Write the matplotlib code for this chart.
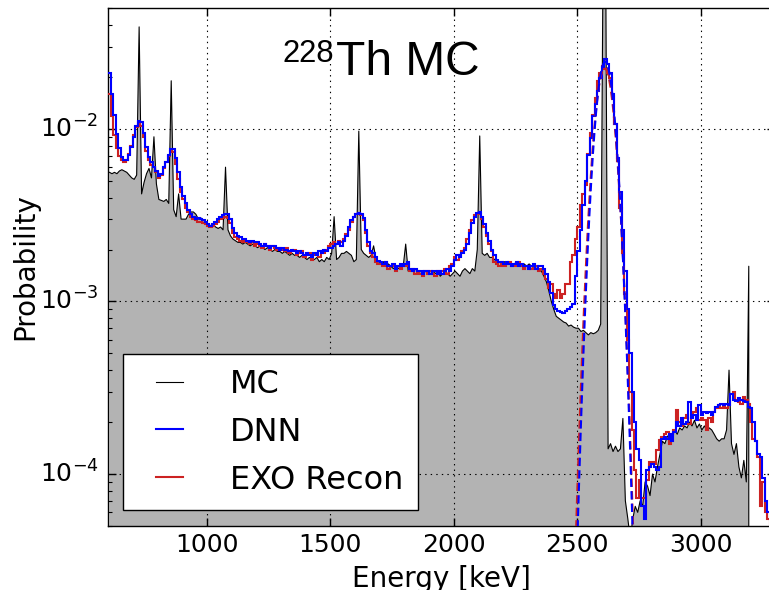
import numpy as np
import matplotlib
matplotlib.use("Agg")
import matplotlib.pyplot as plt
from matplotlib.lines import Line2D
from matplotlib.legend_handler import HandlerLine2D

# ---------------------------------------------------------------------------
# 228Th calibration source: simulated energy spectrum (MC) and the energies
# reconstructed by the DNN and by the standard EXO reconstruction.
# Histograms use 10 keV bins starting at 600 keV; values are probabilities
# per bin, listed in units of 1e-3 (one row = 100 keV).
# ---------------------------------------------------------------------------
bin_start = 600.0
bin_width = 10.0

dnn_e3 = [
    21.0, 16.0, 12.0, 9.3, 7.8, 6.9, 6.6, 6.6, 7.1, 7.9,          # 600
    9.0, 10.4, 11.1, 11.0, 9.5, 7.9, 6.9, 6.4, 6.0, 5.7,          # 700
    5.3, 5.5, 6.0, 6.4, 7.1, 7.6, 7.6, 6.8, 5.6, 4.6,             # 800
    4.1, 3.7, 3.4, 3.2, 3.1, 3.0, 3.05, 3.0, 2.95, 2.9,           # 900
    2.8, 2.75, 2.8, 2.9, 3.0, 3.1, 3.15, 3.2, 3.2, 3.0,           # 1000
    2.65, 2.5, 2.4, 2.35, 2.3, 2.3, 2.25, 2.2, 2.25, 2.2,         # 1100
    2.2, 2.15, 2.1, 2.15, 2.1, 2.05, 2.1, 2.1, 2.05, 2.0,         # 1200
    2.05, 2.0, 2.0, 1.95, 2.0, 1.95, 1.9, 1.95, 1.9, 1.85,        # 1300
    1.9, 1.85, 1.8, 1.9, 1.85, 1.95, 1.9, 2.0, 1.95, 2.05,        # 1400
    2.05, 2.1, 2.15, 2.2, 2.1, 2.25, 2.4, 2.7, 2.95, 3.1,         # 1500
    3.2, 3.25, 3.2, 3.05, 2.6, 2.2, 1.95, 1.9, 1.8, 1.72,         # 1600
    1.7, 1.65, 1.7, 1.6, 1.6, 1.65, 1.55, 1.6, 1.65, 1.6,         # 1700
    1.65, 1.7, 1.55, 1.5, 1.55, 1.5, 1.5, 1.45, 1.5, 1.5,         # 1800
    1.45, 1.5, 1.5, 1.45, 1.5, 1.45, 1.5, 1.55, 1.5, 1.6,         # 1900
    1.75, 1.85, 1.8, 1.9, 2.0, 2.15, 2.5, 2.85, 3.1, 3.25,        # 2000
    3.3, 3.1, 2.8, 2.5, 2.25, 2.0, 1.85, 1.75, 1.7, 1.7,          # 2100
    1.65, 1.7, 1.65, 1.6, 1.65, 1.7, 1.6, 1.65, 1.6, 1.6,         # 2200
    1.55, 1.6, 1.65, 1.55, 1.6, 1.6, 1.55, 1.45, 1.3, 1.12,       # 2300
    0.95, 0.9, 0.88, 0.87, 0.86, 0.88, 0.9, 0.93, 0.97, 1.4,      # 2400
    1.95, 2.6, 3.6, 5.0, 7.1, 8.9, 11.9, 14.0, 16.5, 19.7,        # 2500
    22.9, 25.5, 23.8, 21.0, 16.0, 10.7, 6.8, 4.3, 2.6, 1.5,       # 2600
    0.9, 0.5, 0.3, 0.2, 0.14, 0.12, 0.065, 0.055, 0.105, 0.11,    # 2700
    0.115, 0.11, 0.105, 0.11, 0.16, 0.165, 0.16, 0.17, 0.155, 0.175,  # 2800
    0.2, 0.19, 0.21, 0.195, 0.2, 0.26, 0.21, 0.22, 0.205, 0.25,   # 2900
    0.22, 0.23, 0.225, 0.23, 0.22, 0.23, 0.245, 0.25, 0.255, 0.25,    # 3000
    0.255, 0.25, 0.29, 0.27, 0.265, 0.275, 0.27, 0.265, 0.26, 0.245,  # 3100
    0.24, 0.2, 0.155, 0.13, 0.125, 0.095, 0.07, 0.06, 0.055, 0.05,    # 3200
]

exo_e3 = [
    16.0, 11.8, 9.2, 7.8, 7.0, 6.6, 6.4, 6.6, 7.2, 8.0,           # 600
    9.2, 10.3, 11.0, 10.4, 9.0, 7.4, 6.6, 6.2, 6.0, 5.6,          # 700
    5.2, 5.4, 5.9, 6.4, 7.0, 7.4, 7.3, 6.3, 5.1, 4.3,             # 800
    3.9, 3.5, 3.3, 3.1, 3.0, 2.95, 2.9, 2.9, 2.85, 2.8,           # 900
    2.75, 2.7, 2.75, 2.8, 2.9, 3.0, 3.05, 3.1, 3.05, 2.85,        # 1000
    2.5, 2.35, 2.3, 2.25, 2.2, 2.25, 2.2, 2.15, 2.2, 2.1,         # 1100
    2.15, 2.1, 2.05, 2.15, 2.1, 2.0, 2.1, 2.05, 2.0, 2.05,        # 1200
    2.0, 1.95, 2.05, 1.9, 1.95, 2.0, 1.85, 1.9, 1.95, 1.8,        # 1300
    1.85, 1.9, 1.75, 1.85, 1.9, 1.8, 1.95, 1.9, 2.0, 2.1,         # 1400
    2.15, 2.2, 2.15, 2.25, 2.2, 2.3, 2.45, 2.6, 2.9, 3.1,         # 1500
    3.2, 3.25, 3.15, 2.95, 2.5, 2.1, 1.9, 1.8, 1.7, 1.65,         # 1600
    1.65, 1.6, 1.7, 1.55, 1.6, 1.6, 1.5, 1.6, 1.55, 1.6,          # 1700
    1.6, 1.65, 1.5, 1.55, 1.45, 1.5, 1.45, 1.4, 1.5, 1.45,        # 1800
    1.5, 1.45, 1.4, 1.5, 1.45, 1.5, 1.55, 1.45, 1.6, 1.65,        # 1900
    1.8, 1.75, 1.85, 1.95, 2.05, 2.3, 2.6, 2.95, 3.15, 3.2,       # 2000
    3.2, 3.0, 2.7, 2.4, 2.15, 1.95, 1.7, 1.65, 1.6, 1.7,          # 2100
    1.6, 1.65, 1.7, 1.6, 1.6, 1.65, 1.7, 1.6, 1.55, 1.6,          # 2200
    1.6, 1.55, 1.6, 1.6, 1.5, 1.55, 1.45, 1.35, 1.2, 1.27,        # 2300
    1.1, 1.05, 1.16, 1.05, 1.1, 1.27, 1.27, 1.7, 1.85, 2.3,       # 2400
    2.7, 3.6, 4.2, 4.7, 7.2, 9.5, 12.0, 15.2, 19.0, 21.0,         # 2500
    23.0, 22.3, 21.0, 19.7, 15.5, 10.7, 6.5, 3.5, 1.9, 1.1,       # 2600
    0.6, 0.3, 0.18, 0.105, 0.073, 0.092, 0.073, 0.073, 0.092, 0.117,  # 2700
    0.117, 0.115, 0.138, 0.157, 0.165, 0.17, 0.175, 0.15, 0.17, 0.18,  # 2800
    0.235, 0.2, 0.19, 0.21, 0.22, 0.195, 0.21, 0.23, 0.24, 0.205,     # 2900
    0.21, 0.205, 0.18, 0.21, 0.2, 0.23, 0.24, 0.25, 0.24, 0.245,      # 3000
    0.24, 0.25, 0.29, 0.30, 0.27, 0.26, 0.255, 0.28, 0.27, 0.255,     # 3100
    0.2, 0.16, 0.155, 0.125, 0.065, 0.09, 0.06, 0.055, 0.05, 0.05,    # 3200
]

# MC truth, given at the bin centres (605, 615, ... keV); no entries above 3200 keV
mc_e3 = [
    5.6, 5.5, 5.6, 5.5, 5.7, 5.8, 5.7, 5.6, 5.4, 5.2,             # 600
    5.1, 5.4, 39.0, 4.2, 4.9, 5.5, 5.9, 5.2, 9.0, 4.8,            # 700
    3.9, 3.85, 3.8, 3.9, 3.7, 19.0, 3.4, 3.1, 4.2, 3.0,           # 800
    3.0, 3.0, 3.2, 3.3, 3.3, 3.2, 3.0, 3.05, 2.95, 2.9,           # 900
    2.8, 2.75, 2.8, 2.7, 2.65, 2.7, 2.6, 6.0, 2.6, 2.4,           # 1000
    2.3, 2.25, 2.2, 2.2, 2.15, 2.2, 2.15, 2.1, 2.15, 2.1,         # 1100
    2.05, 2.1, 2.05, 2.0, 2.05, 2.0, 1.95, 2.0, 1.95, 1.95,       # 1200
    1.9, 1.95, 1.9, 1.85, 1.9, 1.85, 1.85, 1.8, 1.85, 1.8,        # 1300
    1.75, 1.8, 1.75, 1.75, 1.8, 1.7, 1.75, 1.7, 1.8, 1.75,        # 1400
    1.9, 3.1, 1.75, 1.8, 1.9, 1.9, 1.95, 1.9, 1.85, 1.7,          # 1500
    1.75, 9.7, 2.0, 1.9, 1.85, 1.8, 1.85, 2.1, 1.75, 1.7,         # 1600
    1.65, 1.7, 1.6, 1.65, 1.6, 1.55, 1.6, 1.55, 1.6, 1.6,         # 1700
    2.15, 1.5, 1.55, 1.5, 1.55, 1.45, 1.5, 1.45, 1.5, 1.45,       # 1800
    1.45, 1.5, 1.45, 1.5, 1.4, 1.45, 1.5, 1.45, 1.4, 1.45,        # 1900
    1.5, 1.45, 1.4, 1.5, 1.55, 1.5, 1.45, 1.55, 1.5, 2.0,         # 2000
    9.1, 1.9, 1.85, 1.9, 1.8, 1.8, 1.75, 1.7, 1.7, 1.65,          # 2100
    1.7, 1.65, 1.7, 1.6, 1.65, 1.7, 1.65, 1.6, 1.65, 1.6,         # 2200
    1.65, 1.6, 1.65, 1.6, 1.55, 1.5, 1.4, 1.3, 1.15, 1.0,         # 2300
    0.9, 0.82, 0.8, 0.78, 0.76, 0.75, 0.72, 0.73, 0.71, 0.70,     # 2400
    0.70, 0.67, 0.68, 0.66, 0.64, 0.66, 0.65, 0.66, 0.68, 0.74,   # 2500
    120.0, 120.0, 0.14, 0.15, 0.135, 0.145, 0.135, 0.14, 0.21, 0.07,  # 2600
    0.055, 0.042, 0.055, 0.065, 0.06, 0.07, 0.065, 0.09, 0.085, 0.075,  # 2700
    0.1, 0.09, 0.11, 0.13, 0.155, 0.15, 0.165, 0.17, 0.165, 0.18,     # 2800
    0.17, 0.185, 0.18, 0.19, 0.185, 0.2, 0.19, 0.205, 0.185, 0.195,   # 2900
    0.18, 0.19, 0.18, 0.185, 0.18, 0.17, 0.16, 0.155, 0.16, 0.16,     # 3000
    0.18, 0.4, 0.15, 0.13, 0.15, 0.11, 0.095, 0.12, 0.09, 1.6,        # 3100
    0.0, 0.0, 0.0, 0.0, 0.0, 0.0, 0.0, 0.0, 0.0, 0.0,                 # 3200
]

# Gaussian fits to the 2615 keV full-energy peak: (amplitude, mean [keV], sigma [keV])
dnn_fit = (0.0245, 2613.0, 31.5)
exo_fit = (0.0225, 2611.0, 33.0)
fit_range = (2470.0, 2760.0)

labels = ["MC", "DNN", "EXO Recon"]
title_mass = "228"
title_main = "Th MC"

# ---------------------------------------------------------------------------
plt.style.use("classic")

dnn = np.asarray(dnn_e3) * 1e-3
exo = np.asarray(exo_e3) * 1e-3
mc = np.asarray(mc_e3) * 1e-3
edges = bin_start + bin_width * np.arange(len(dnn) + 1)
centres = bin_start + bin_width * (np.arange(len(mc)) + 0.5)

fig = plt.figure(figsize=(7.69, 5.90), dpi=100, facecolor="white")
ax = fig.add_axes([0.1408, 0.1085, 0.8666, 0.8775])
ax.set_facecolor("white")

grey = "#b3b3b3"
ax.fill_between(centres, mc, 1e-9, facecolor=grey, edgecolor="none", zorder=1)
ax.plot(centres, mc, color="black", lw=0.8, zorder=2)

red = "#cc2222"
blue = "#0000ff"
ax.stairs(exo, edges, baseline=None, color=red, lw=1.5, zorder=3)
ax.stairs(dnn, edges, baseline=None, color=blue, lw=1.5, zorder=4)

fx = np.linspace(fit_range[0], fit_range[1], 400)
for (amp, mu, sig), col, z in ((exo_fit, red, 5), (dnn_fit, blue, 6)):
    fy = amp * np.exp(-0.5 * ((fx - mu) / sig) ** 2)
    ax.plot(fx, fy, color=col, lw=1.5, dashes=(6, 3), zorder=z)

ax.set_yscale("log")
ax.set_xlim(600, 3300)
ax.set_ylim(5e-5, 5e-2)
ax.set_xticks([1000, 1500, 2000, 2500, 3000])
ax.grid(True, which="major", color="black", linestyle=":", linewidth=0.8)
ax.set_axisbelow(False)
ax.tick_params(axis="both", which="major", labelsize=18, direction="in",
               length=6, width=1)
ax.tick_params(axis="x", which="major", pad=5)
ax.tick_params(axis="y", which="major", pad=7)
ax.tick_params(axis="both", which="minor", direction="in", length=3, width=0.8)

ax.set_xlabel("Energy [keV]", fontsize=20, labelpad=6)
ax.set_ylabel("Probability", fontsize=20, labelpad=0)

# isotope title: small mass number raised before the element symbol
fig.text(283 / 769, 1 - 61.7 / 590, title_mass, fontsize=22.3,
         family="Liberation Sans", ha="left", va="baseline")
fig.text(336 / 769, 1 - 75 / 590, title_main, fontsize=34.5,
         family="Liberation Sans", ha="left", va="baseline")

handles = [Line2D([], [], color="black", lw=0.8),
           Line2D([], [], color=blue, lw=1.5),
           Line2D([], [], color=red, lw=1.5)]
leg = ax.legend(handles, labels, loc="lower left",
                bbox_to_anchor=(0.022, 0.031), borderaxespad=0,
                fontsize=23, frameon=True, fancybox=False, framealpha=1,
                borderpad=0.45, labelspacing=0.53, handlelength=1.74,
                handletextpad=1.16, numpoints=2,
                handler_map={Line2D: HandlerLine2D(xpad=0.3)})
leg.get_frame().set_edgecolor("black")
leg.get_frame().set_linewidth(1.0)
leg.set_zorder(10)

fig.savefig("out.png", dpi=100, facecolor="white")
